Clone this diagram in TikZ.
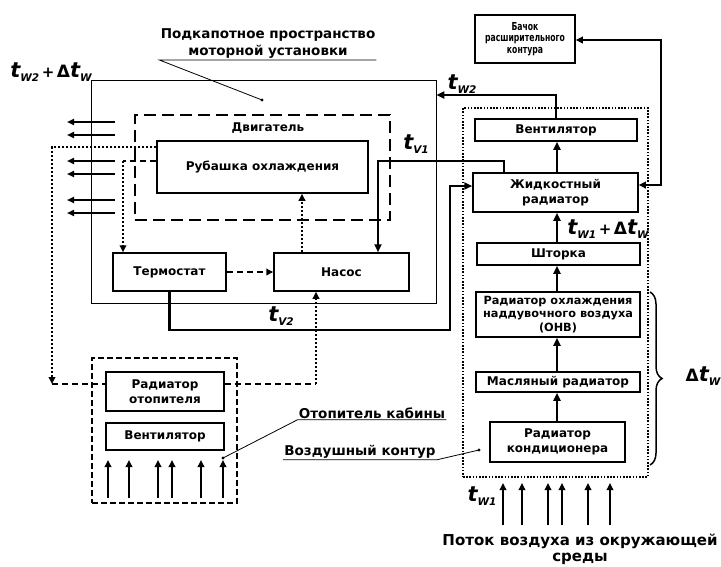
\documentclass[tikz,border=0pt]{standalone}
\usepackage{fontspec}
\setmainfont{DejaVu Sans}
\usepackage{graphicx}
\usepackage{tikz}
\usetikzlibrary{positioning,arrows.meta,decorations.pathreplacing}

% temperature labels
\newcommand{\tv}[1]{{\fontsize{21}{21}\selectfont\bfseries\itshape t}\raisebox{-3.5pt}{\fontsize{10.5}{10.5}\selectfont\bfseries\itshape #1}}
\newcommand{\dlt}{{\fontsize{17}{17}\selectfont\bfseries Δ}}
\newcommand{\pls}{{\fontsize{15}{15}\selectfont\bfseries\,+\,}}

\begin{document}
\begin{tikzpicture}[x=1pt, y=-1pt,
  box/.style={draw, line width=1.5pt, fill=white, inner sep=0pt, align=center,
    font=\fontsize{12}{14.5}\selectfont\bfseries},
  flow/.style={line width=2.8pt, -{Triangle[length=8pt,width=7pt]}},
  air/.style={line width=2.4pt, -{Triangle[length=7pt,width=6.5pt]}},
  dots/.style={line width=2.2pt, dash pattern=on 2pt off 2pt, -{Triangle[length=7pt,width=6.5pt]}},
  dsh/.style={line width=2pt, dash pattern=on 6pt off 4pt},
  lbl/.style={inner sep=1pt, align=center, font=\fontsize{13.5}{17}\selectfont\bfseries}]
  \useasboundingbox (0,0) rectangle (721,566);

  % Frames
  \node[draw, line width=0.8pt, inner sep=0pt, minimum width=345, minimum height=223] (hood) at (263.5,191.5) {};
  \node[draw, line width=1.6pt, dash pattern=on 12pt off 6pt, inner sep=0pt, minimum width=255, minimum height=105] (eng) at (262.5,167.5) {};
  \node[draw, line width=1.2pt, dash pattern=on 1.6pt off 1.6pt, inner sep=0pt, minimum width=185, minimum height=369] (airc) at (555.5,292.5) {};
  \node[draw, line width=2pt, dash pattern=on 6pt off 3pt, inner sep=0pt, minimum width=145, minimum height=145] (heat) at (164.5,430.5) {};

  % Engine blocks
  \node[font=\fontsize{12}{14}\selectfont\bfseries] (englbl) at (268,128) {Двигатель};
  \node[box, minimum width=211, minimum height=52] (jacket) at (262.5,167) {Рубашка охлаждения};
  \node[box, minimum width=113, minimum height=38] (term) at (169.5,272) {Термостат};
  \node[box, minimum width=135, minimum height=38] (pump) at (341.5,272) {Насос};

  % Radiator column
  \node[box, minimum width=100, minimum height=48, font=\fontsize{11}{14}\selectfont\bfseries] (tank) at (525,39)
    {\scalebox{0.7}[1]{\begin{tabular}{@{}c@{}}Бачок\\[-2.5pt]расширительного\\[-2.5pt]контура\end{tabular}}};
  \node[box, minimum width=162, minimum height=22] (fanR) at (556,130) {Вентилятор};
  \node[box, minimum width=165, minimum height=39] (liq) at (555.5,192.5) {Жидкостный\\радиатор};
  \node[box, minimum width=163, minimum height=22] (blind) at (558.5,254) {Шторка};
  \node[box, minimum width=164, minimum height=45, font=\fontsize{11.3}{13.5}\selectfont\bfseries] (cac) at (558,314.5) {Радиатор охлаждения\\наддувочного воздуха\\(ОНВ)};
  \node[box, minimum width=164, minimum height=20] (oil) at (558,382) {Масляный радиатор};
  \node[box, minimum width=135, minimum height=40] (ac) at (557.5,442) {Радиатор\\кондиционера};

  % Cab heater
  \node[box, minimum width=118, minimum height=39] (hrad) at (165,391.5) {Радиатор\\отопителя};
  \node[box, minimum width=118, minimum height=27] (fanL) at (165,436.5) {Вентилятор};

  % Coolant lines
  \coordinate (c1) at (450,330);
  \coordinate (c2) at (504,161);
  \coordinate (c3) at (556,95);
  \coordinate (c4) at (661,40);
  \coordinate (c5) at (661,185);
  \coordinate (colx) at (557,0);
  \draw[flow] (term.south) |- (c1) |- ([yshift=6.5pt]liq.west);
  \draw[flow] (c2 |- liq.north) -- (c2) -| ([xshift=36.5pt]pump.north);
  \draw[flow] (fanR.north) |- (hood.east |- c3);
  \draw[line width=2.4pt, {Triangle[length=7pt,width=6.5pt]}-{Triangle[length=7pt,width=6.5pt]}]
    (tank.east |- c4) -- (c4) -- (c5) -- (liq.east |- c5);
  \foreach \a/\b in {ac/oil, oil/cac, cac/blind, blind/liq, liq/fanR} {
    \draw[flow] (\a.north -| colx) -- (\b.south -| colx);
  }

  % Heater loop and thermostat
  \coordinate (a1) at (52,147);
  \coordinate (a2) at (52,384);
  \coordinate (a3) at (316,384);
  \coordinate (b1) at (123,161);
  \coordinate (d1) at (302,0);
  \draw[dots] (jacket.west |- a1) -- (a1) -- (a2);
  \draw[dsh] (a2) -- (hrad.west |- a2);
  \draw[dsh] (hrad.east |- a3) -- (a3);
  \draw[dots] (a3) -- (pump.south -| a3);
  \draw[dsh] (jacket.west |- b1) -- (b1);
  \draw[dots] (b1) -- (term.north -| b1);
  \draw[dots] (pump.north -| d1) -- (jacket.south -| d1);
  \draw[dsh, -{Triangle[length=7pt,width=6.5pt]}] (term) -- (pump);

  % Heat out of the hood
  \foreach \y in {122,135,161,174,200,213} {
    \draw[line width=2.2pt, -{Triangle[length=7pt,width=6pt]}] (115,\y) -- (67,\y);
  }
  % Air flows
  \foreach \x in {108,129,158,172,201,223} {
    \draw[air] (\x,498) -- (\x,460);
  }
  \foreach \x in {503,522,548,562,588,610} {
    \draw[air] (\x,525) -- (\x,483);
  }
  \draw[line width=1.5pt, decorate, decoration={brace, amplitude=12pt}] (650,292) -- (650,465);

  % Labels
  \node[lbl] (hoodlbl) at (268,44) {Подкапотное пространство\\моторной установки};
  \coordinate (hooddot) at (262,100);
  \draw[line width=0.8pt] (hoodlbl.south east) -- (hoodlbl.south west) -- (hooddot);
  \fill (hooddot) circle (1.6pt);
  \node[lbl] (heatlbl) at (372,413) {Отопитель кабины};
  \coordinate (heatdot) at (223,458);
  \draw[line width=0.8pt] (heatlbl.south east) -- (heatlbl.south west) -- (heatdot);
  \fill (heatdot) circle (1.6pt);
  \node[lbl] (airlbl) at (360,452) {Воздушный контур};
  \coordinate (airdot) at (479,450);
  \draw[line width=0.8pt] (airlbl.south west) -- (airlbl.south east) -- (airdot);
  \fill (airdot) circle (1.6pt);
  \node[lbl, anchor=south, inner sep=0pt, font=\fontsize{15}{16.5}\selectfont\bfseries] (flowlbl) at (580,565) {Поток воздуха из окружающей\\среды};

  \node (tw2a) at (51,72) {\tv{W2}\pls\dlt\tv{W}};
  \node (tw2) at (462,84) {\tv{W2}};
  \node (tv1) at (416,144) {\tv{V1}};
  \node (tv2) at (281,316) {\tv{V2}};
  \node (tw1a) at (608,229) {\tv{W1}\pls\dlt\tv{W}};
  \node (dtw) at (703,376) {\dlt\tv{W}};
  \node (tw1) at (482,496) {\tv{W1}};
\end{tikzpicture}
\end{document}
